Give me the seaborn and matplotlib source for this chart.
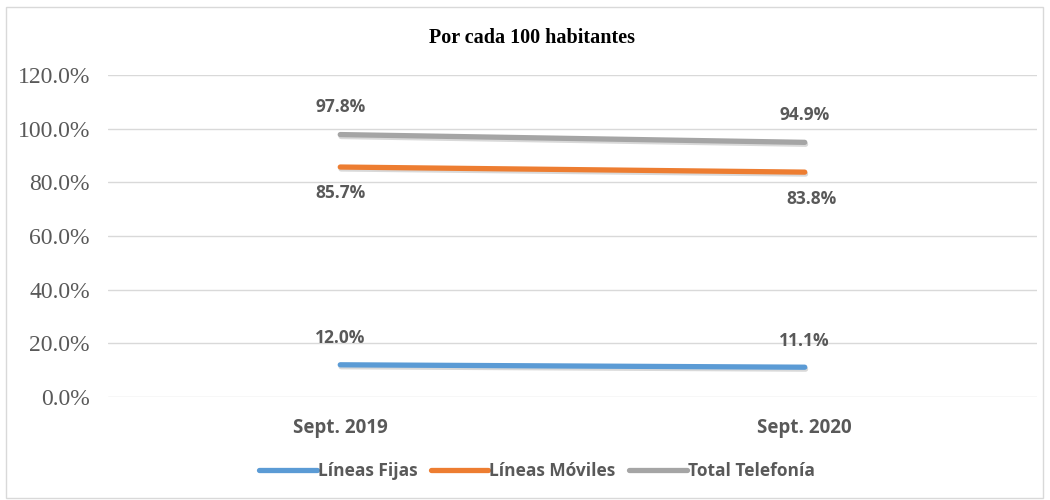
import pandas as pd
import seaborn as sns
import matplotlib.pyplot as plt
import matplotlib.patheffects as pe
from matplotlib.lines import Line2D
from matplotlib.patches import Rectangle

periodos = ["Sept. 2019", "Sept. 2020"]
series = ["Líneas Fijas", "Líneas Móviles", "Total Telefonía"]
fijas = [0.120, 0.111]
moviles = [0.857, 0.838]
total = [0.978, 0.949]
colores = ["#5B9BD5", "#ED7D31", "#A5A5A5"]
yticks = [0.0, 0.2, 0.4, 0.6, 0.8, 1.0, 1.2]

df = pd.DataFrame({
    "periodo": periodos * 3,
    "serie": [s for s in series for _ in periodos],
    "valor": fijas + moviles + total,
})

sns.set_style("white")
fig = plt.figure(figsize=(10.5, 5), dpi=100)
ax = fig.add_axes([108 / 1050, 1 - 397 / 500, (1037 - 108) / 1050, (397 - 75) / 500])

shadow = [pe.SimpleLineShadow(offset=(0.6, -1.4), shadow_color="black", alpha=0.15), pe.Normal()]
sns.lineplot(data=df, x="periodo", y="valor", hue="serie", hue_order=series,
             palette=colores, linewidth=3.8, solid_capstyle="round",
             path_effects=shadow, legend=False, ax=ax)

gris = "#595959"
sans = "Open Sans"
# data labels: above for fijas & total, below for moviles
offsets = {"Líneas Fijas": [(0, 19), (0, 19)],
           "Líneas Móviles": [(0, -19), (5, -19)],
           "Total Telefonía": [(0, 20), (0, 20)]}
for s in series:
    sub = df[df["serie"] == s]
    for i, (p, v) in enumerate(zip(sub["periodo"], sub["valor"])):
        ax.annotate(f"{v * 100:.1f}%", (i, v), xytext=offsets[s][i], textcoords="offset points",
                    ha="center", va="center", fontsize=12.5, fontweight="bold",
                    color=gris, family=sans)

ax.set_xlim(-0.5, 1.5)
ax.set_ylim(0, 1.2)
ax.set_yticks(yticks)
ax.set_yticklabels([f"{t * 100:.1f}%" for t in yticks], family="Liberation Serif",
                   fontsize=17, color=gris)
ax.set_xticks(range(len(periodos)))
ax.set_xticklabels(periodos, family=sans, fontweight="bold", fontsize=13.5, color=gris)
ax.tick_params(axis="y", length=0, pad=13)
ax.tick_params(axis="x", length=0, pad=15)
ax.set_xlabel("")
ax.set_ylabel("")
ax.grid(axis="y", color="#D9D9D9", linewidth=1)
ax.set_axisbelow(True)
for sp in ax.spines.values():
    sp.set_visible(False)

handles = [Line2D([0], [0], color=c, linewidth=3.8, solid_capstyle="round") for c in colores]
leg = fig.legend(handles, series, loc="center", bbox_to_anchor=(537 / 1050, 1 - 471 / 500),
                 ncol=3, frameon=False, handlelength=3.3, handletextpad=0.05, columnspacing=0.8,
                 prop={"family": sans, "weight": "bold", "size": 12.5})
for t in leg.get_texts():
    t.set_color(gris)

fig.text(532 / 1050, 1 - 38 / 500, "Por cada 100 habitantes", ha="center", va="center",
         family="Liberation Serif", fontweight="bold", fontsize=14.5, color="black")

fig.patches.append(Rectangle((6 / 1050, 2 / 500), 1037 / 1050, 491 / 500, transform=fig.transFigure,
                             fill=False, edgecolor="#D9D9D9", linewidth=1))

fig.savefig("out.png", dpi=100, facecolor="white")
